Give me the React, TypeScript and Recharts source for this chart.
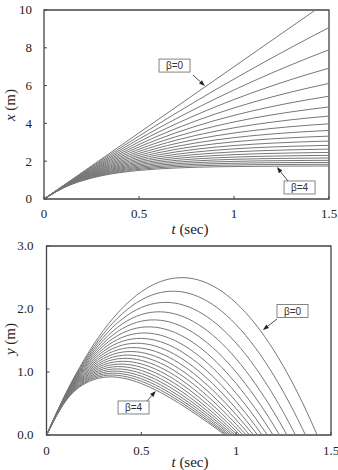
import { LineChart, Line, XAxis, YAxis, ReferenceArea, ReferenceDot, ReferenceLine } from "recharts";

// time samples (sec)
const T = [0, 0.1, 0.2, 0.3, 0.4, 0.5, 0.6, 0.7, 0.8, 0.9, 1.0, 1.1, 1.2, 1.3, 1.4, 1.5];
// drag coefficients, one curve each
const BETAS = [0, 0.2, 0.4, 0.6, 0.8, 1.0, 1.2, 1.4, 1.6, 1.8, 2.0, 2.2, 2.4, 2.6, 2.8, 3.0, 3.2, 3.4, 3.6, 3.8, 4.0];

// x (m) per beta, read along T
const X_ROWS = [
  [0, 0.7, 1.4, 2.1, 2.8, 3.5, 4.2, 4.9, 5.6, 6.3, 7.0, 7.7, 8.4, 9.1, 9.8, 10.5],
  [0, 0.693, 1.3724, 2.0382, 2.6909, 3.3307, 3.9578, 4.5725, 5.175, 5.7656, 6.3444, 6.9118, 7.468, 8.0132, 8.5476, 9.0714],
  [0, 0.6862, 1.3455, 1.9789, 2.5875, 3.1722, 3.734, 4.2738, 4.7924, 5.2907, 5.7694, 6.2294, 6.6713, 7.0959, 7.5038, 7.8958],
  [0, 0.6794, 1.3193, 1.9219, 2.4893, 3.0238, 3.5271, 4.0011, 4.4475, 4.8679, 5.2639, 5.6367, 5.9879, 6.3186, 6.6301, 6.9234],
  [0, 0.6727, 1.2937, 1.867, 2.3962, 2.8847, 3.3357, 3.7519, 4.1362, 4.4909, 4.8184, 5.1207, 5.3997, 5.6573, 5.8951, 6.1146],
  [0, 0.6661, 1.2689, 1.8143, 2.3078, 2.7543, 3.1583, 3.5239, 3.8547, 4.154, 4.4248, 4.6699, 4.8916, 5.0923, 5.2738, 5.4381],
  [0, 0.6596, 1.2447, 1.7636, 2.2238, 2.6319, 2.994, 3.315, 3.5998, 3.8524, 4.0764, 4.275, 4.4513, 4.6075, 4.7462, 4.8691],
  [0, 0.6532, 1.2211, 1.7148, 2.144, 2.5171, 2.8415, 3.1234, 3.3686, 3.5817, 3.767, 3.9281, 4.0681, 4.1899, 4.2957, 4.3877],
  [0, 0.6469, 1.1981, 1.6678, 2.0681, 2.4092, 2.6998, 2.9475, 3.1586, 3.3384, 3.4917, 3.6223, 3.7336, 3.8284, 3.9092, 3.9781],
  [0, 0.6406, 1.1757, 1.6227, 1.996, 2.3078, 2.5682, 2.7858, 2.9675, 3.1193, 3.2461, 3.352, 3.4404, 3.5143, 3.576, 3.6275],
  [0, 0.6344, 1.1539, 1.5792, 1.9273, 2.2124, 2.4458, 2.6369, 2.7934, 2.9215, 3.0263, 3.1122, 3.1825, 3.24, 3.2872, 3.3257],
  [0, 0.6283, 1.1326, 1.5373, 1.8621, 2.1227, 2.3318, 2.4997, 2.6344, 2.7425, 2.8293, 2.8989, 2.9548, 2.9996, 3.0356, 3.0645],
  [0, 0.6223, 1.1119, 1.497, 1.7999, 2.0382, 2.2256, 2.3731, 2.4891, 2.5803, 2.6521, 2.7085, 2.7529, 2.7879, 2.8154, 2.837],
  [0, 0.6164, 1.0917, 1.4581, 1.7407, 1.9586, 2.1266, 2.2561, 2.356, 2.433, 2.4923, 2.5381, 2.5734, 2.6006, 2.6216, 2.6378],
  [0, 0.6105, 1.072, 1.4207, 1.6843, 1.8835, 2.0341, 2.1479, 2.2339, 2.2989, 2.348, 2.3851, 2.4132, 2.4344, 2.4504, 2.4625],
  [0, 0.6048, 1.0528, 1.3847, 1.6305, 1.8127, 1.9476, 2.0476, 2.1217, 2.1765, 2.2172, 2.2473, 2.2696, 2.2861, 2.2983, 2.3074],
  [0, 0.599, 1.034, 1.3499, 1.5793, 1.7459, 1.8668, 1.9546, 2.0184, 2.0647, 2.0983, 2.1228, 2.1405, 2.1534, 2.1627, 2.1695],
  [0, 0.5934, 1.0158, 1.3164, 1.5304, 1.6827, 1.7911, 1.8683, 1.9232, 1.9623, 1.9901, 2.0099, 2.024, 2.034, 2.0412, 2.0463],
  [0, 0.5879, 0.998, 1.2841, 1.4838, 1.623, 1.7202, 1.788, 1.8353, 1.8683, 1.8913, 1.9074, 1.9186, 1.9264, 1.9319, 1.9357],
  [0, 0.5824, 0.9806, 1.253, 1.4392, 1.5666, 1.6537, 1.7133, 1.754, 1.7818, 1.8009, 1.8139, 1.8228, 1.8289, 1.8331, 1.8359],
  [0, 0.5769, 0.9637, 1.2229, 1.3967, 1.5132, 1.5912, 1.6436, 1.6787, 1.7022, 1.7179, 1.7285, 1.7356, 1.7403, 1.7435, 1.7457],
];

// y (m) per beta, read along T (below 0 is clipped by the axis)
const Y_ROWS = [
  [0, 0.651, 1.204, 1.659, 2.015, 2.274, 2.434, 2.497, 2.461, 2.327, 2.095, 1.765, 1.337, 0.811, 0.186, -0.536],
  [0, 0.6442, 1.1789, 1.6054, 1.9267, 2.1444, 2.2607, 2.2777, 2.1966, 2.0206, 1.7506, 1.3891, 0.9375, 0.3977, -0.2285, -0.9392],
  [0, 0.6378, 1.1544, 1.5546, 1.8429, 2.0238, 2.1014, 2.0798, 1.9629, 1.7543, 1.4579, 1.0769, 0.6147, 0.0743, -0.541, -1.2282],
  [0, 0.6313, 1.1307, 1.5057, 1.7637, 1.9115, 1.9554, 1.9016, 1.7557, 1.5231, 1.2088, 0.8175, 0.3539, -0.178, -0.774, -1.4307],
  [0, 0.625, 1.1076, 1.4588, 1.6888, 1.8068, 1.8215, 1.7407, 1.5719, 1.3218, 0.9966, 0.6022, 0.1438, -0.3736, -0.9456, -1.5678],
  [0, 0.6187, 1.0851, 1.4139, 1.6179, 1.7092, 1.6985, 1.5954, 1.4088, 1.1466, 0.816, 0.4234, -0.0251, -0.5243, -1.0693, -1.6558],
  [0, 0.6125, 1.0633, 1.3706, 1.5508, 1.6181, 1.5854, 1.464, 1.2638, 0.9939, 0.662, 0.2752, -0.1603, -0.639, -1.156, -1.707],
  [0, 0.6064, 1.042, 1.3291, 1.4872, 1.5331, 1.4815, 1.3451, 1.1349, 0.8607, 0.5307, 0.1523, -0.2682, -0.7253, -1.2142, -1.7308],
  [0, 0.6003, 1.0213, 1.2893, 1.427, 1.4537, 1.3859, 1.2374, 1.0202, 0.7444, 0.4188, 0.0507, -0.3537, -0.7889, -1.2504, -1.7344],
  [0, 0.5944, 1.0011, 1.251, 1.37, 1.3796, 1.2978, 1.1397, 0.9179, 0.6429, 0.3233, -0.0333, -0.421, -0.8346, -1.2698, -1.7232],
  [0, 0.5885, 0.9814, 1.2142, 1.3159, 1.3102, 1.2166, 1.0511, 0.8267, 0.5541, 0.2419, -0.1026, -0.4735, -0.8661, -1.2765, -1.7014],
  [0, 0.5827, 0.9623, 1.1788, 1.2646, 1.2453, 1.1418, 0.9707, 0.7453, 0.4763, 0.1725, -0.1595, -0.5139, -0.8864, -1.2734, -1.6721],
  [0, 0.577, 0.9436, 1.1448, 1.2159, 1.1846, 1.0727, 0.8975, 0.6725, 0.4083, 0.1132, -0.2061, -0.5445, -0.898, -1.2632, -1.6377],
  [0, 0.5713, 0.9255, 1.1122, 1.1697, 1.1277, 1.0089, 0.831, 0.6074, 0.3486, 0.0627, -0.2442, -0.5672, -0.9026, -1.2476, -1.6],
  [0, 0.5658, 0.9078, 1.0807, 1.1259, 1.0744, 0.95, 0.7704, 0.5491, 0.2962, 0.0196, -0.2751, -0.5833, -0.9018, -1.2282, -1.5603],
  [0, 0.5603, 0.8906, 1.0505, 1.0842, 1.0245, 0.8955, 0.7151, 0.4968, 0.2503, -0.0171, -0.2999, -0.5942, -0.897, -1.206, -1.5197],
  [0, 0.5548, 0.8738, 1.0214, 1.0447, 0.9776, 0.845, 0.6647, 0.4498, 0.2099, -0.0483, -0.3198, -0.6009, -0.8889, -1.182, -1.4788],
  [0, 0.5495, 0.8574, 0.9934, 1.0071, 0.9337, 0.7982, 0.6186, 0.4077, 0.1744, -0.0749, -0.3354, -0.6041, -0.8784, -1.1569, -1.4382],
  [0, 0.5442, 0.8415, 0.9665, 0.9714, 0.8924, 0.7549, 0.5765, 0.3697, 0.1431, -0.0974, -0.3476, -0.6045, -0.8662, -1.1311, -1.3983],
  [0, 0.539, 0.8259, 0.9406, 0.9374, 0.8535, 0.7146, 0.538, 0.3356, 0.1156, -0.1165, -0.3568, -0.6028, -0.8526, -1.1051, -1.3593],
  [0, 0.5338, 0.8108, 0.9156, 0.905, 0.8171, 0.6772, 0.5027, 0.3048, 0.0913, -0.1327, -0.3636, -0.5993, -0.8382, -1.0791, -1.3215],
];

const T_TICKS = [0, 0.5, 1, 1.5];
const X_TICKS = [0, 2, 4, 6, 8, 10];
const Y_TICKS = [0, 1, 2, 3];

const SERIF = '"Liberation Serif", "Times New Roman", serif';
const CURVE = "#777777";
const FRAME = "#444444";

function toRows(rows: number[][]) {
  return T.map((t, j) => {
    const row: any = { t };
    rows.forEach((r, i) => (row["b" + i] = r[j]));
    return row;
  });
}

const xData = toRows(X_ROWS);
const yData = toRows(Y_ROWS);

const bottomTick = (off: number) => (p: any) => (
  <g>
    <line x1={p.x} y1={p.y} x2={p.x} y2={p.y - 3} stroke={FRAME} />
    <text x={p.x} y={p.y + off} textAnchor="middle" fontSize={13} fontFamily={SERIF} fill="#222">
      {String(p.payload.value)}
    </text>
  </g>
);

const leftTick = (gap: number, fmt: (v: number) => string) => (p: any) => (
  <g>
    <line x1={p.x} y1={p.y} x2={p.x + 3} y2={p.y} stroke={FRAME} />
    <text x={p.x - gap} y={p.y + 4.3} textAnchor="end" fontSize={13} fontFamily={SERIF} fill="#222">
      {fmt(p.payload.value)}
    </text>
  </g>
);

const labelBox = (text: string) => (p: any) => (
  <g>
    <rect x={p.cx - 15.5} y={p.cy - 6.5} width={31} height={13} fill="#fff" stroke="#666" strokeWidth={0.8} />
    <text x={p.cx} y={p.cy + 3.5} textAnchor="middle" fontSize={10} fontFamily='"Liberation Sans", Arial, sans-serif' fill="#333">
      {text}
    </text>
  </g>
);

const arrow = (p: any) => {
  const dx = p.x2 - p.x1;
  const dy = p.y2 - p.y1;
  const len = Math.sqrt(dx * dx + dy * dy) || 1;
  const ux = dx / len;
  const uy = dy / len;
  const bx = p.x2 - ux * 6;
  const by = p.y2 - uy * 6;
  return (
    <g>
      <line x1={p.x1} y1={p.y1} x2={bx} y2={by} stroke="#222" strokeWidth={0.8} />
      <polygon
        points={`${p.x2},${p.y2} ${bx - uy * 2.2},${by + ux * 2.2} ${bx + uy * 2.2},${by - ux * 2.2}`}
        fill="#222"
      />
    </g>
  );
};

export default function App() {
  return (
    <div style={{ position: "absolute", left: 0, top: 0, width: 338, height: 470, background: "#fff" }}>
      <div style={{ position: "absolute", left: 0, top: 0 }}>
        <LineChart width={338} height={234} data={xData} margin={{ top: 10, right: 9, bottom: 0, left: 0 }}>
          <XAxis
            dataKey="t"
            type="number"
            domain={[0, 1.5]}
            ticks={T_TICKS}
            interval={0}
            height={35}
            tickSize={0}
            tickMargin={0}
            axisLine={false}
            tickLine={false}
            tick={bottomTick(18.5)}
          />
          <YAxis
            type="number"
            domain={[0, 10]}
            ticks={X_TICKS}
            interval={0}
            allowDataOverflow
            width={44}
            tickSize={0}
            tickMargin={0}
            axisLine={false}
            tickLine={false}
            tick={leftTick(12, (v) => String(v))}
          />
          {BETAS.map((b, i) => (
            <Line
              key={b}
              dataKey={"b" + i}
              type="natural"
              stroke={CURVE}
              strokeWidth={1}
              dot={false}
              isAnimationActive={false}
            />
          ))}
          <ReferenceArea x1={0} x2={1.5} y1={0} y2={10} fill="none" fillOpacity={0} stroke={FRAME} strokeWidth={1.3} />
          <ReferenceLine segment={[{ x: 0.784, y: 6.56 }, { x: 0.847, y: 5.98 }]} shape={arrow} />
          <ReferenceLine segment={[{ x: 1.284, y: 0.95 }, { x: 1.226, y: 1.69 }]} shape={arrow} />
          <ReferenceDot x={0.687} y={7.06} r={1} shape={labelBox("β=0")} />
          <ReferenceDot x={1.345} y={0.61} r={1} shape={labelBox("β=4")} />
        </LineChart>
      </div>
      <div style={{ position: "absolute", left: 0, top: 234 }}>
        <LineChart width={338} height={236} data={yData} margin={{ top: 12, right: 7, bottom: 0, left: 0 }}>
          <XAxis
            dataKey="t"
            type="number"
            domain={[0, 1.5]}
            ticks={T_TICKS}
            interval={0}
            height={35}
            tickSize={0}
            tickMargin={0}
            axisLine={false}
            tickLine={false}
            tick={bottomTick(19.5)}
          />
          <YAxis
            type="number"
            domain={[0, 3]}
            ticks={Y_TICKS}
            interval={0}
            allowDataOverflow
            width={46.5}
            tickSize={0}
            tickMargin={0}
            axisLine={false}
            tickLine={false}
            tick={leftTick(13, (v) => v.toFixed(1))}
          />
          {BETAS.map((b, i) => (
            <Line
              key={b}
              dataKey={"b" + i}
              type="natural"
              stroke={CURVE}
              strokeWidth={1}
              dot={false}
              isAnimationActive={false}
            />
          ))}
          <ReferenceArea x1={0} x2={1.5} y1={0} y2={3} fill="none" fillOpacity={0} stroke={FRAME} strokeWidth={1.3} />
          <ReferenceLine segment={[{ x: 1.215, y: 1.84 }, { x: 1.141, y: 1.667 }]} shape={arrow} />
          <ReferenceLine segment={[{ x: 0.53, y: 0.54 }, { x: 0.576, y: 0.698 }]} shape={arrow} />
          <ReferenceDot x={1.297} y={1.968} r={1} shape={labelBox("β=0")} />
          <ReferenceDot x={0.459} y={0.437} r={1} shape={labelBox("β=4")} />
        </LineChart>
      </div>
      <svg width={338} height={470} style={{ position: "absolute", left: 0, top: 0, pointerEvents: "none" }}>
        <text x={190} y={234} textAnchor="middle" fontSize={15} fontFamily={SERIF} fill="#222">
          <tspan fontStyle="italic">t</tspan> (sec)
        </text>
        <text x={190} y={467} textAnchor="middle" fontSize={15} fontFamily={SERIF} fill="#222">
          <tspan fontStyle="italic">t</tspan> (sec)
        </text>
        <text x={15} y={105} transform="rotate(-90 15 105)" textAnchor="middle" fontSize={15} fontFamily={SERIF} fill="#222">
          <tspan fontStyle="italic">x</tspan> (m)
        </text>
        <text x={15} y={339} transform="rotate(-90 15 339)" textAnchor="middle" fontSize={15} fontFamily={SERIF} fill="#222">
          <tspan fontStyle="italic">y</tspan> (m)
        </text>
      </svg>
    </div>
  );
}
